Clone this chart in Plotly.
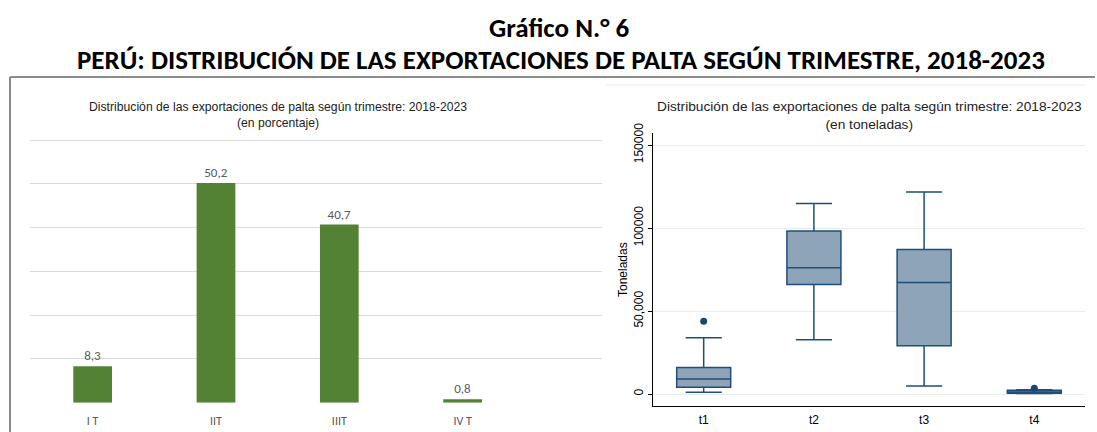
import plotly.graph_objects as go

W, H = 1097, 432

# ---- data ----
bar_categories = ["I T", "IIT", "IIIT", "IV T"]
bar_values = [8.3, 50.2, 40.7, 0.8]

box_categories = ["t1", "t2", "t3", "t4"]
box_lower = [1000, 32700, 4800, 300]
box_q1 = [4000, 65900, 29100, 500]
box_median = [9000, 76100, 67100, 1200]
box_q3 = [16000, 98200, 87100, 2300]
box_upper = [33900, 114700, 121700, 2600]
outlier_cat = ["t1", "t4"]
outlier_val = [43800, 3400]

ytick_vals = [0, 50000, 100000, 150000]
ytick_text = ["0", "50,000", "100000", "150000"]

def px(x):
    return x / W

def py(y):
    return 1 - y / H

fig = go.Figure()

# left: bar chart
fig.add_trace(go.Bar(
    x=bar_categories, y=bar_values,
    marker=dict(color="#548235", line=dict(width=0)),
    text=[f"{v:.1f}".replace(".", ",") for v in bar_values],
    textposition="outside", cliponaxis=False,
    textfont=dict(family="Carlito, Lato, sans-serif", size=13, color="#595959"),
    xaxis="x", yaxis="y", showlegend=False, hoverinfo="skip",
))

# right: box plot
fig.add_trace(go.Box(
    x=box_categories, q1=box_q1, median=box_median, q3=box_q3,
    lowerfence=box_lower, upperfence=box_upper,
    fillcolor="#8ea4b9", line=dict(color="#1f4e79", width=1.5),
    width=0.49, whiskerwidth=0.67, boxpoints=False,
    xaxis="x2", yaxis="y2", showlegend=False,
))
fig.add_trace(go.Scatter(
    x=outlier_cat, y=outlier_val, mode="markers",
    marker=dict(color="#1a476f", size=7),
    xaxis="x2", yaxis="y2", showlegend=False,
))

fig.update_layout(
    template="none",
    width=W, height=H,
    margin=dict(l=0, r=0, t=0, b=0, pad=0),
    paper_bgcolor="white", plot_bgcolor="rgba(0,0,0,0)",
    bargap=0.686,
    xaxis=dict(
        domain=[px(30), px(602)], range=[-0.508, 4.13], automargin=False,
        showgrid=False, zeroline=False, showline=False, ticks="",
        ticklabelstandoff=9,
        tickfont=dict(family="Carlito, Lato, sans-serif", size=12, color="#595959"),
    ),
    yaxis=dict(
        domain=[py(402.7), py(138.7)], range=[0, 60.3], dtick=10, tick0=0, automargin=False,
        showgrid=True, gridcolor="#d9d9d9", gridwidth=1,
        zeroline=False, showline=False, showticklabels=False, ticks="",
    ),
    xaxis2=dict(
        domain=[px(653), px(1085)], range=[-0.46, 3.46], automargin=False,
        anchor="y2", showgrid=False, zeroline=False,
        showline=True, linecolor="black", linewidth=1.2,
        ticks="", ticklabelstandoff=2,
        tickfont=dict(family="Liberation Sans, Arial, sans-serif", size=12, color="black"),
    ),
    yaxis2=dict(
        domain=[py(406), py(133.3)], range=[-7229, 157048], automargin=False,
        anchor="x2",
        tickvals=ytick_vals, ticktext=ytick_text, tickangle=-90,
        showgrid=True, gridcolor="#e6eded", gridwidth=1,
        zeroline=False, showline=True, linecolor="black", linewidth=1.2,
        ticks="outside", ticklen=4, tickcolor="black",
        tickfont=dict(family="Liberation Sans, Arial, sans-serif", size=12, color="black"),
        title=dict(text="Toneladas", standoff=1,
                   font=dict(family="Liberation Sans, Arial, sans-serif", size=12, color="black")),
    ),
)

title_font = dict(family="Carlito, Lato, Open Sans, sans-serif", size=27, color="black")
sub_font = dict(family="Liberation Sans, Arial, sans-serif", color="#222222")

annotations = [
    dict(text="<b>Gráfico N.° 6</b>", x=px(559), y=py(27), font=title_font),
    dict(text="<b>PERÚ: DISTRIBUCIÓN DE LAS EXPORTACIONES DE PALTA SEGÚN TRIMESTRE, 2018-2023</b>",
         x=px(561), y=py(60), font=title_font),
    dict(text="Distribución de las exportaciones de palta según trimestre: 2018-2023<br>(en porcentaje)",
         x=px(277.5), y=py(114.5), font=dict(size=12.2, **sub_font)),
    dict(text="Distribución de las exportaciones de palta según trimestre: 2018-2023<br>(en toneladas)",
         x=px(869), y=py(115.5), font=dict(size=13.7, **sub_font)),
]
for a in annotations:
    a.update(xref="paper", yref="paper", showarrow=False, xanchor="center", yanchor="middle")
fig.update_layout(annotations=annotations)

shapes = [
    dict(type="line", xref="paper", yref="paper", x0=px(10), x1=px(1095), y0=py(77), y1=py(77),
         line=dict(color="#8c8c8c", width=2)),
    dict(type="line", xref="paper", yref="paper", x0=px(10), x1=px(10), y0=py(77), y1=0,
         line=dict(color="#8c8c8c", width=2)),
    dict(type="line", xref="paper", yref="paper", x0=px(606), x1=px(1085), y0=py(85), y1=py(85),
         line=dict(color="#e6eded", width=1)),
]
fig.update_layout(shapes=shapes)

fig.write_html("out.html", config={"displayModeBar": False})
with open("out.html", encoding="utf-8") as f:
    html = f.read()
html = html.replace("<body>", '<body style="margin:0;overflow:hidden">', 1)
with open("out.html", "w", encoding="utf-8") as f:
    f.write(html)
